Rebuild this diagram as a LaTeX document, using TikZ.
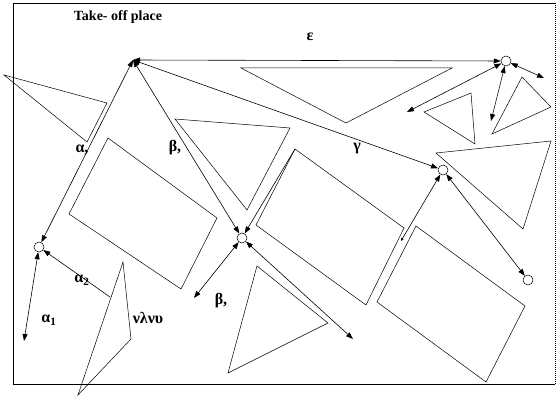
\documentclass[tikz,border=0pt]{standalone}
\usepackage{fontspec}
\setmainfont{Liberation Serif}
\usetikzlibrary{
	arrows.meta     % Per le punte delle frecce
}

\begin{document}
\begin{tikzpicture}[
		x=1pt, y=-1pt,
		>={Triangle[length=7pt,width=5pt]},
		link/.style={<->, line width=0.6pt},
		zone/.style={line width=0.5pt},
		spot/.style={draw, circle, line width=0.5pt, minimum size=10pt, inner sep=0pt},
		label_text/.style={font=\fontsize{16}{18}\selectfont\bfseries, inner sep=1pt},
		title_text/.style={font=\fontsize{14}{16}\selectfont\bfseries}
		]
		\useasboundingbox (0,0) rectangle (558,401);
		
		% --- Cornice ---
		\draw[line width=0.6pt] (555,384) -- (13,384) -- (13,3) -- (555,3);
		\draw[line width=0.6pt, dash pattern=on 1pt off 1pt] (555,3) -- (555,384);
		
		% --- Titolo ---
		\node[title_text] (title) at (118,17) {Take- off place};
		
		% --- Ostacoli (triangoli) ---
		\draw[zone] (241,68) -- (452,68) -- (346,123) -- cycle;
		\draw[zone] (424,112) -- (471,93) -- (475,144) -- cycle;
		\draw[zone] (522,77) -- (551,107) -- (492,134) -- cycle;
		\draw[zone] (436,153) -- (551,141) -- (523,229) -- cycle;
		\draw[zone] (175,119) -- (290,128) -- (247,210) -- cycle;
		\draw[zone] (257,266) -- (328,323) -- (228,373) -- cycle;
		\draw[zone] (4,75) -- (107,103) -- (87,142) -- cycle;
		\draw[zone] (123,262) -- (131,339) -- (78,395) -- cycle;
		
		% --- Ostacoli (rettangoli) ---
		\draw[zone] (108,138) -- (217,218) -- (181,289) -- (69,214) -- cycle;
		\draw[zone] (295,149) -- (404,228) -- (366,305) -- (256,225) -- cycle;
		\draw[zone] (416,226) -- (525,306) -- (486,382) -- (377,302) -- cycle;
		
		% --- Punti ---
		\coordinate (T) at (133,60);
		\node[spot] (E) at (506,61) {};
		\node[spot] (G) at (443,170) {};
		\node[spot] (H) at (528,280) {};
		\node[spot] (B) at (242,238) {};
		\node[spot] (A) at (39,247) {};
		
		% Estremi liberi delle frecce
		\coordinate (e1) at (407,112);
		\coordinate (e2) at (491,121);
		\coordinate (e3) at (544,78);
		\coordinate (g1) at (401,241);
		\coordinate (b1) at (194,298);
		\coordinate (b2) at (353,339);
		\coordinate (r1) at (295,149);
		\coordinate (a1) at (24,341);
		\coordinate (a2) at (110,297);
		
		% --- Frecce dal punto di decollo ---
		\draw[link] (T) -- (E);
		\draw[link] (T) -- (G);
		\draw[link] (T) -- (B);
		\draw[link] (T) -- (A);
		
		% --- Frecce secondarie ---
		\draw[link] (E) -- (e1);
		\draw[link] (E) -- (e2);
		\draw[link] (E) -- (e3);
		\draw[line width=0.6pt, {Triangle[length=7pt,width=5pt]}-{Triangle[length=3pt,width=2.5pt]}] (G) -- (g1);
		\draw[link] (G) -- (H);
		\draw[link] (B) -- (b1);
		\draw[link] (B) -- (b2);
		\draw[->, line width=0.6pt] (r1) -- (B);
		\draw[link] (A) -- (a1);
		\draw[<-, line width=0.6pt] (A) -- (a2);
		
		% --- Etichette ---
		\node[label_text] (eps) at (310,37) {ε};
		\node[label_text] (gam) at (357,149) {γ};
		\node[label_text] (bet1) at (175,148) {β,};
		\node[label_text] (alp1) at (82,150) {α,};
		\node[label_text] (bet2) at (221,301) {β,};
		\node[label_text] (alp2) at (82,280) {α\textsubscript{2}};
		\node[label_text] (alp3) at (49,320) {α\textsubscript{1}};
		\node[label_text] (nlnu) at (148,318) {νλνυ};
\end{tikzpicture}
\end{document}
